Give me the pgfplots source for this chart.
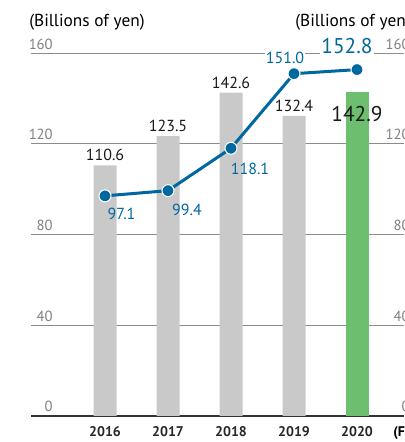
\documentclass[border=0pt]{standalone}
\usepackage{fontspec}
\setmainfont{PT Sans}
\usepackage{pgfplots}
\pgfplotsset{compat=1.18}
\definecolor{bargray}{HTML}{C8C9C8}
\definecolor{bargreen}{HTML}{6DBE6E}
\definecolor{lineblue}{HTML}{00679F}
\definecolor{gridgray}{HTML}{8C8C8C}
\definecolor{ticktxt}{HTML}{7F7F7F}
\begin{document}
\begin{tikzpicture}
  \begin{axis}[
    scale only axis, width=303pt, height=331.5pt,
    xmin=-1.6667, xmax=4.746, ymin=-11.47, ymax=183.5,
    axis line style={draw=none}, tick style={draw=none},
    xtick={0,...,4}, xticklabels={2016,2017,2018,2019,2020},
    xticklabel style={anchor=base, yshift=4pt, text=black!85,
      font=\fontsize{10.5}{12}\selectfont\bfseries},
    ytick={0,40,...,160},
    yticklabel style={anchor=base east, inner sep=0pt, xshift=39.75pt, yshift=3pt,
      text=ticktxt, font=\fontsize{11}{12}\selectfont},
    /pgf/number format/assume math mode=true,
    clip=false,
  ]
    % grid lines (start right of the tick labels)
    \pgfplotsinvokeforeach{40,80,120,160}{
      \draw[gridgray, line width=0.8pt] (axis cs:-1.175,#1) -- (axis cs:4.746,#1);
      \node[anchor=base east, inner sep=0pt, text=ticktxt,
            font=\fontsize{11}{12}\selectfont, yshift=3pt]
        at (axis cs:4.841,#1) {#1};
    }
    \node[anchor=base east, inner sep=0pt, text=ticktxt,
          font=\fontsize{11}{12}\selectfont, yshift=3pt]
      at (axis cs:4.841,0) {0};
    \draw[black!80, line width=0.8pt] (axis cs:-1.175,0) -- (axis cs:4.746,0);

    % net sales (bars)
    \addplot[ybar, bar width=17.25pt, bar shift=0pt, fill=bargray, draw=none,
      nodes near coords,
      every node near coord/.append style={anchor=base, yshift=3.5pt,
        text=black!90, font=\fontsize{12}{14}\selectfont}]
      coordinates {(0,110.6) (1,123.5) (2,142.6) (3,132.4)};
    \addplot[ybar, bar width=17.25pt, bar shift=0pt, fill=bargreen, draw=none,
      nodes near coords,
      every node near coord/.append style={anchor=base, yshift=-22pt,
        text=black!90, font=\fontsize{16}{18}\selectfont}]
      coordinates {(4,142.9)};

    % second series (line)
    \addplot[lineblue, line width=2.25pt, mark=*, mark size=4.5pt,
      mark options={fill=lineblue, draw=white, line width=0.8pt}]
      coordinates {(0,97.1) (1,99.4) (2,118.1) (3,151.0) (4,152.8)};

    \begin{scope}[every node/.style={anchor=base, text=lineblue,
        font=\fontsize{12}{14}\selectfont}]
      \node[xshift=12.4pt, yshift=-17.5pt] at (axis cs:0,97.1) {97.1};
      \node[xshift=14.25pt, yshift=-18.75pt] at (axis cs:1,99.4) {99.4};
      \node[xshift=14.25pt, yshift=-20pt] at (axis cs:2,118.1) {118.1};
      \node[fill=white, inner sep=1pt, xshift=-6.75pt, yshift=7.8pt]
        at (axis cs:3,151.0) {151.0};
      \node[fill=white, inner sep=1pt, xshift=-7.5pt, yshift=12pt,
        font=\fontsize{16}{18}\selectfont] at (axis cs:4,152.8) {152.8};
    \end{scope}

    \node[anchor=base west, inner sep=0pt, font=\fontsize{13}{15}\selectfont]
      at (axis cs:-1.206,172) {(Billions of yen)};
    \node[anchor=base west, inner sep=0pt, font=\fontsize{13}{15}\selectfont]
      at (axis cs:3.016,172) {(Billions of yen)};
    \node[anchor=base west, inner sep=0pt, yshift=4pt,
          font=\fontsize{10.5}{12}\selectfont\bfseries]
      at (axis cs:4.571,-11.47) {(FY)};

    \coordinate (sw) at (rel axis cs:0,0);
    \coordinate (ne) at (rel axis cs:1,1);
  \end{axis}
  \pgfresetboundingbox
  \path[use as bounding box] (sw) rectangle (ne);
\end{tikzpicture}
\end{document}
